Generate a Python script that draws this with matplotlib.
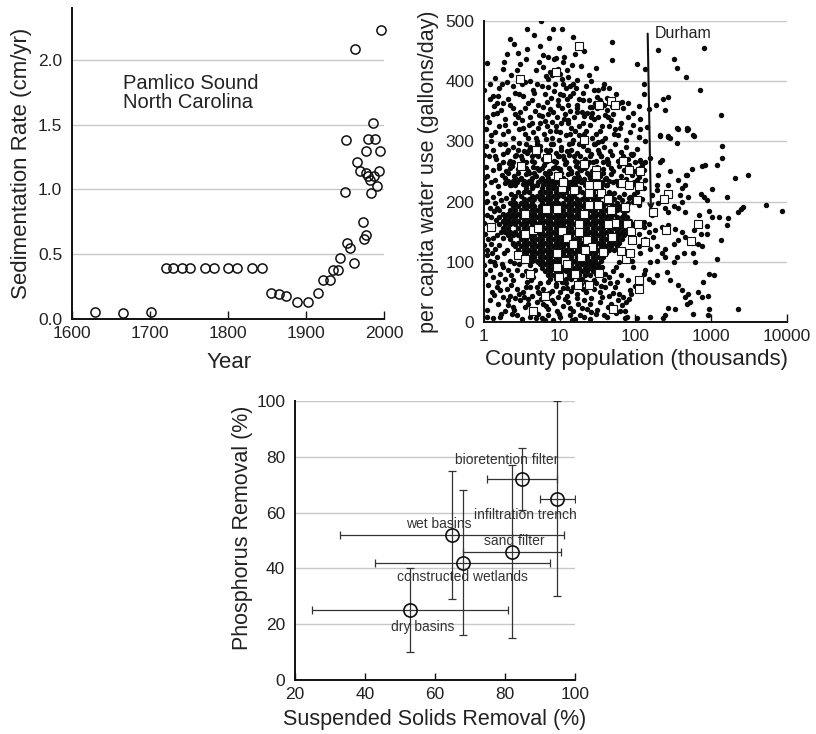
import matplotlib
matplotlib.use("Agg")
import matplotlib.pyplot as plt
from matplotlib.ticker import FormatStrFormatter, NullLocator

plt.rcParams['font.family'] = ['Liberation Sans', 'DejaVu Sans']

# ---------------- Panel 1: Pamlico Sound sedimentation ----------------
years = [1629, 1665, 1701, 1720, 1730, 1741, 1751, 1771, 1782, 1800, 1811, 1831, 1843,
         1855, 1865, 1875, 1889, 1903, 1916, 1922, 1931, 1935, 1941, 1944, 1953, 1956,
         1962, 1950, 1951, 1963, 1965, 1969, 1973, 1974, 1977, 1977, 1977, 1979, 1979,
         1982, 1983, 1986, 1988, 1987, 1991, 1993, 1995, 1996]
rates = [0.057, 0.049, 0.057, 0.39, 0.39, 0.39, 0.39, 0.39, 0.39, 0.39, 0.39, 0.39, 0.39,
         0.20, 0.19, 0.18, 0.13, 0.13, 0.20, 0.30, 0.30, 0.38, 0.38, 0.47, 0.59, 0.55,
         0.43, 0.98, 1.38, 2.08, 1.21, 1.14, 0.75, 0.62, 0.65, 1.30, 1.13, 1.10, 1.39,
         1.07, 0.97, 1.51, 1.39, 1.10, 1.03, 1.14, 1.30, 2.23]

# ---------------- Panel 2: per capita water use vs county population ----------------
# (population in thousands, gallons/day)
dots_upper = [(5.6,500),(3.7,487),(8.1,486),(10.6,486),(4.6,476),(15.2,473),(2.2,470),(2.5,462),
    (5.5,458),(48.7,465),(21,450),(3.7,454),(1.86,432),(3.6,437),(8.9,438),(11.2,432),(14.7,427),
    (49.7,435),(104,429),(201,451),(324,437),(352,422),(462,407),(800,455),(2.7,418),(2.3,410),
    (6.1,424),(7.8,410),(10.6,404),(7.3,472),(7.1,440),(8.4,437),(11.5,441),(4.1,401),(7.1,404),
    (7.4,415),(10.1,412),(13,407),(19,426),(26,400),(32,386),(37,389),(39,396),(45,389),(130,396),
    (131,379),(273,373),(708,385),(1343,344),(497,321),(578,310),(1.71,396),(2.0,399),(1.2,371),
    (1.55,375),(1.47,364),(1.77,364),(2.57,381),(2.93,379),(3.85,364),(5.2,361),(6.1,357),(7.4,354),
    (6.4,378),(10.1,379),(11.2,377),(13.7,375),(16.4,388),(18.2,371),(16.8,360),(2.44,355),(3.0,349),
    (9.6,368),(8.2,349),(11.8,346),(19.5,349),(1.9,338),(110,359),(79,364),(69,355),(94,348),(51,345),
    (31,373),(24,368),(26.5,357),(38,361),(27,347),(60,364),(188,360),(247,352),(234,370),(363,321),
    (477,322),(585,309),(212,309),(273,309),(290,306),(112,307),(149,354),(115,338),(94,327),
    (115,321),(141,324),(66,365),(49,358),(42,352),(34,368),(25,357),(21,343),(17,349),(28,337),
    (47,335),(54,321),(63,322),(1.0,385),(1.3,345),(1.05,320),(1.25,310),(1.6,325),(2.1,318),
    (2.6,330),(3.3,322),(4.0,340),(4.5,315),(5.5,330),(6.8,325),(9,318),(10.5,330),(12,310),
    (14,322),(15.5,340),(22,318),(25,328),(30,312),(36,325),(40,305),(44,340),(58,310),(75,302),
    (85,315),(135,420),(3.2,395),(4.6,380),(5.3,344),(8.6,395),(12.8,360),(14.8,395),(20,380),
    (1.4,405),(1.1,430),(2.0,445),(6.7,365),(9.3,340),(18,310),(3.8,305),(7.8,305),(2.2,360),
    (1.35,358),(2.8,340),(4.3,330),(6.2,312),(8.0,333),(13,335),(16,318),(20,330),(32,340),(3.5,312),
    (1.15,333),(1.8,312),(1.5,348),(7.0,390),(5.0,395),(11,395),(17,402),(9.5,420),(6.0,443),
    (1.2,396),(1.6,388),(2.4,392),(3.5,398),(4.4,385),(5.8,392),(8.5,383),(12,388),(15,380),
    (22,392),(28,385),(1.3,376),(2.1,370),(3.3,375),(4.3,368),(7.6,372),(9.4,360),(12.5,370),
    (20,368),(29,363),(42,372),(55,378),(1.7,352),(2.6,346),(3.5,355),(4.7,350),(5.8,342),(7.0,346),
    (10.8,356),(13.5,350),(17,356),(23,348),(31,355),(40,344),(1.1,340),(1.9,328),(2.9,320),
    (3.9,328),(5.1,322),(6.3,334),(7.4,318),(8.8,326),(10.2,315),(11.5,338),(13.6,312),(17.8,326),
    (21,312),(26,340),(34,318),(45,326),(52,312),(65,330),(80,340),(1.4,315),(2.4,305),(3.2,336),
    (4.9,306),(6.6,304),(9.8,302),(12.8,330),(27,305),(36,300),(1.8,420),(3.0,428),(4.8,418),
    (5.3,432),(9.8,455),(12.5,418),(16,445),(2.8,447),(6.6,408),(13.8,392),(24,410),(30,422)]

dots_mid = [(1.05,292),(1.3,286),(1.65,295),(2.0,282),(2.4,291),(2.9,297),(3.4,284),(4.0,290),
    (4.7,279),(5.5,293),(6.5,285),(7.6,296),(9.0,280),(10.5,291),(12.4,284),(14.6,297),(17,281),
    (20,292),(23.5,286),(28,295),(33,280),(39,290),(46,284),(54,296),(64,282),(75,291),(88,279),
    (104,288),
    (1.15,276),(1.45,270),(1.8,279),(2.2,268),(2.65,277),(3.15,271),(3.7,280),(4.35,268),(5.1,276),
    (6.0,271),(7.0,279),(8.3,267),(9.7,275),(11.4,270),(13.4,278),(15.8,268),(18.5,276),(21.8,271),
    (25.6,279),(30,267),(35.5,275),(42,270),(49,278),(58,268),(68,276),(80,270),(94,279),(115,268),
    (1.05,258),(1.3,253),(1.6,261),(1.95,250),(2.35,259),(2.8,254),(3.3,262),(3.85,251),(4.5,258),
    (5.3,253),(6.2,261),(7.3,250),(8.6,258),(10.1,254),(11.9,262),(14,251),(16.4,259),(19.3,253),
    (22.7,261),(26.7,250),(31.4,258),(37,254),(43.5,262),(51,251),(60,259),(71,253),(83,261),(98,250),
    (1.1,242),(1.4,236),(1.75,245),(2.1,234),(2.5,243),(3.0,237),(3.55,246),(4.15,235),(4.9,243),
    (5.7,237),(6.7,245),(7.9,234),(9.3,242),(10.9,238),(12.8,246),(15.1,235),(17.7,243),(20.8,237),
    (24.5,245),(28.8,234),(34,242),(40,238),(47,246),(55,235),(65,243),(76,237),(90,245),(106,236),
    (1.0,228),(1.25,232),(1.55,226),(1.9,231),(2.3,227),(2.75,233),(3.25,229),(3.8,231),(4.45,226),
    (5.2,232),(6.1,228),(7.2,233),(8.4,227),(9.9,231),(11.6,226),(13.7,232),(16.1,228),(19,233),
    (22.3,227),(26.2,231),(30.8,226),(36.3,232),(42.7,228),(50.2,233),(59,227),(69.5,231),(82,226),
    (96,232),
    (1.05,214),(1.3,208),(1.6,215),(1.95,206),(2.3,212),(52,214),(60,207),(70,213),(82,206),(97,212),
    (115,205),(1.1,201),(1.4,197),(1.7,203),(66,202),(80,198),(95,204),(112,197),
    (2.15,264),(3.6,266),(6.8,267),(12,266),(24,265),(44,266),(1.25,300),(5.0,301),(15,302),(32,299)]

# dense core of the cloud: gallons/day -> populations along that level
core_rows = {
    296: [1.9, 3.6, 5.0, 8.1, 13.2, 18.2, 29.5],
    286: [2.07, 2.85, 3.94, 5.43, 7.5, 10.35, 14.3, 23.2, 32],
    276: [1.4, 2.6, 3.1, 4.3, 6.9, 9.5, 11.2, 15.5, 25.1, 34.7],
    266: [1.76, 2.43, 3.35, 4.62, 6.38, 8.81, 12.2, 16.8, 19.7, 27.2, 37.6],
    256: [1.6, 2.2, 3.6, 5.0, 5.9, 8.1, 9.5, 13.2, 18.2, 21.4, 29.5, 47.9],
    248: [2.07, 2.85, 3.94, 4.62, 6.38, 7.5, 10.35, 14.3, 16.8, 23.2, 32, 37.6],
    240: [1.9, 2.6, 3.1, 4.3, 5.9, 6.9, 9.5, 11.2, 15.5, 18.2, 25.1, 29.5, 40.7],
    234: [2.43, 3.35, 3.94, 5.43, 6.38, 8.81, 10.35, 12.2, 16.8, 19.7, 27.2, 32, 44.2],
    228: [2.2, 2.6, 3.6, 4.3, 5.0, 6.9, 8.1, 11.2, 13.2, 15.5, 21.4, 25.1, 34.7, 40.7],
    222: [3.6, 4.3, 5.9, 6.9, 8.1, 9.5, 13.2, 15.5, 18.2, 25.1, 29.5, 34.7],
    216: [2.85, 3.35, 3.94, 5.43, 6.38, 7.5, 8.81, 10.35, 12.2, 16.8, 19.7, 23.2, 27.2, 37.6, 44.2],
    210: [2.6, 3.1, 4.3, 5.0, 5.9, 6.9, 8.1, 9.5, 11.2, 13.2, 15.5, 21.4, 25.1, 29.5, 34.7, 40.7, 47.9],
    204: [2.43, 3.35, 3.94, 4.62, 5.43, 6.38, 7.5, 8.81, 12.2, 14.3, 16.8, 19.7, 23.2, 27.2, 32, 44.2, 51.9],
    198: [2.2, 2.6, 3.1, 3.6, 4.3, 5.9, 6.9, 8.1, 9.5, 11.2, 13.2, 15.5, 18.2, 21.4, 29.5, 34.7, 40.7, 47.9, 56.2],
    192: [1.76, 2.43, 2.85, 3.35, 3.94, 4.62, 5.43, 6.38, 7.5, 8.81, 10.35, 12.2, 14.3, 16.8, 19.7, 23.2, 27.2, 32, 37.6, 51.9, 61, 71.6],
    186: [1.6, 2.2, 2.6, 3.1, 3.6, 4.3, 5.0, 5.9, 6.9, 8.1, 9.5, 11.2, 13.2, 15.5, 18.2, 21.4, 25.1, 29.5, 34.7, 40.7, 47.9, 56.2, 66, 77.6],
    180: [1.76, 2.07, 2.43, 2.85, 3.35, 3.94, 4.62, 5.43, 6.38, 7.5, 8.81, 10.35, 12.2, 14.3, 16.8, 19.7, 23.2, 27.2, 32, 37.6, 44.2, 51.9, 71.6],
    174: [1.6, 1.9, 2.2, 2.6, 3.1, 3.6, 4.3, 5.0, 5.9, 6.9, 8.1, 9.5, 11.2, 13.2, 15.5, 18.2, 21.4, 25.1, 29.5, 34.7, 40.7, 47.9, 56.2, 66, 77.6],
    168: [1.76, 2.07, 2.43, 2.85, 3.35, 3.94, 4.62, 5.43, 6.38, 7.5, 8.81, 10.35, 12.2, 14.3, 16.8, 19.7, 23.2, 27.2, 32, 37.6, 44.2, 51.9, 61, 71.6, 84.1],
    162: [1.6, 1.9, 2.2, 2.6, 3.1, 3.6, 4.3, 5.0, 5.9, 6.9, 8.1, 9.5, 11.2, 13.2, 15.5, 18.2, 21.4, 25.1, 29.5, 34.7, 40.7, 47.9, 56.2, 66, 77.6, 91.2],
    156: [1.76, 2.07, 2.85, 3.35, 3.94, 4.62, 5.43, 6.38, 7.5, 8.81, 10.35, 12.2, 14.3, 16.8, 19.7, 23.2, 27.2, 32, 37.6, 44.2, 51.9, 61, 71.6, 84.1],
    150: [1.9, 2.2, 2.6, 3.1, 3.6, 4.3, 5.0, 5.9, 6.9, 8.1, 9.5, 11.2, 13.2, 15.5, 18.2, 21.4, 25.1, 29.5, 34.7, 40.7, 47.9, 56.2, 66, 77.6],
    144: [2.07, 2.43, 2.85, 3.35, 3.94, 4.62, 5.43, 6.38, 7.5, 8.81, 10.35, 12.2, 14.3, 16.8, 19.7, 23.2, 27.2, 32, 37.6, 44.2, 51.9, 61, 71.6],
    138: [2.2, 3.1, 3.6, 4.3, 5.0, 5.9, 6.9, 8.1, 9.5, 11.2, 13.2, 15.5, 18.2, 21.4, 25.1, 29.5, 34.7, 40.7, 47.9, 56.2, 66],
    132: [2.43, 2.85, 3.35, 3.94, 4.62, 5.43, 6.38, 7.5, 8.81, 10.35, 12.2, 14.3, 16.8, 19.7, 23.2, 27.2, 32, 37.6, 44.2, 51.9, 61],
    126: [2.6, 3.1, 3.6, 4.3, 5.0, 5.9, 6.9, 8.1, 9.5, 11.2, 13.2, 15.5, 18.2, 21.4, 25.1, 29.5, 34.7, 40.7, 47.9, 56.2],
    120: [2.85, 3.35, 3.94, 4.62, 5.43, 6.38, 7.5, 8.81, 10.35, 12.2, 14.3, 16.8, 19.7, 23.2, 27.2, 32, 37.6, 44.2, 51.9],
    114: [3.1, 3.6, 4.3, 5.0, 5.9, 6.9, 8.1, 9.5, 11.2, 13.2, 15.5, 18.2, 21.4, 25.1, 29.5, 34.7, 40.7],
    108: [3.94, 4.62, 5.43, 6.38, 7.5, 8.81, 10.35, 12.2, 14.3, 16.8, 19.7, 23.2, 27.2, 32, 37.6],
    102: [4.3, 5.0, 5.9, 6.9, 8.1, 9.5, 11.2, 13.2, 15.5, 18.2, 21.4, 25.1, 29.5, 34.7],
    96: [5.43, 6.38, 7.5, 8.81, 10.35, 12.2, 14.3, 16.8, 19.7, 23.2, 27.2, 32],
    90: [5.9, 6.9, 8.1, 9.5, 11.2, 13.2, 15.5, 18.2, 21.4, 25.1, 29.5],
    84: [6.38, 7.5, 8.81, 10.35, 12.2, 14.3, 16.8, 19.7, 23.2, 27.2],
    78: [6.9, 8.1, 9.5, 13.2, 15.5, 18.2, 21.4, 25.1],
    72: [7.5, 8.81, 12.2, 14.3, 19.7],
}

dots_left = [(1.03,147),(1.14,138),(1.08,119),(1.26,114),(1.2,102),(1.47,108),(1.71,97),(2.2,102),
    (1.0,165),(1.1,178),(1.2,190),(1.05,200),(1.3,158),(1.45,170),(1.35,185),(1.5,145),(1.0,128),
    (1.6,128),(1.25,130),(1.85,115),(1.15,160),(1.4,122),(1.8,140),(1.4,94),(1.2,86),(1.03,80),
    (1.33,75),(1.63,80),(1.55,66),(1.14,61),(1.26,50),(1.63,53),(2.0,55),(1.8,41),(1.2,36),
    (1.55,30),(2.1,36),(1.08,8),(1.33,6),(1.63,8),(2.32,14),(2.44,25),(2.2,44),(1.9,72),(2.1,86),
    (2.7,86),(3.15,78),(2.44,69),(3.66,66),(4.5,75),(4.7,86),(4.05,94),(5.2,100),(3.3,102),(2.85,113),
    (5.5,64),(5.0,58),(1.0,277),(1.0,240),(1.0,95),(1.1,20),
    (1.8,92),(2.3,78),(2.9,96),(3.6,84),(4.2,70),(1.5,58),(2.5,98),(3.9,108),(2.0,120),(2.4,130),
    (1.7,150),(1.3,140),(1.9,170),(1.25,175),(1.5,190),(1.1,112),(1.35,100)]

dots_low = [(2.7,55),(3.3,50),(4.05,58),(3.0,36),(3.85,39),(4.96,33),(3.5,25),(4.5,19),(2.7,11),
    (3.15,5),(4.05,8),(5.2,14),(6.1,30),(7.1,22),(7.8,36),(9.1,19),(10.1,8),(11.2,27),(13,33),
    (15.2,19),(17.7,30),(18.6,11),(16,5),(8.2,3),(6.4,3),(10.1,50),(12.4,44),(16.8,47),(6.7,44),
    (5.2,50),(7,66),(9,60),(12,64),(15,58),(19,63),(24,61),(6,55),(8,52),(11,56),(14,52),(20,55),
    (22,50),(38,69),(46,64),(57,66),(40,58),(34,50),(51,48),(60,46),(69,42),(81,39),(85,53),(34,33),
    (44,25),(66,28),(73,19),(42,8),(73,6),(23,22),(26.5,94),(94,91),(90,102),(73,108),(60,100),
    (50,85),(65,78),(80,70),(100,60),(45,75),(30,80),(28,70),(33,90),(26,40),(30,14),(21,36),
    (9.5,42),(13.5,24),(5.8,6),(25,5),(55,15),(104,6),(77,8),
    (2.3,62),(2.9,47),(3.6,58),(4.3,44),(5.6,38),(6.5,27),(7.3,48),(8.5,31),(9.8,14),(11.8,38),
    (13.8,12),(17,40),(19.5,24),(21,8),(25,30),(28,54),(31,20),(36,41),(39,12),(48,30),(53,58),
    (62,18),(76,33),(88,46),(2.5,20),(3.8,30),(4.8,6),(6.9,12),(8.9,63),(12.5,56),(16.5,62),
    (5.4,48),(3.4,41),(2.1,28),(1.7,14),(14.5,3),(26,16),(35,60),(45,44),(58,36),(1.35,45),
    (1.9,18),(2.6,40),(10.8,66),(18,70),(22,66),(30,64),(40,80),(36,92),(55,92)]

dots_right = [(550,254),(760,259),(824,260),(1175,261),(1030,221),(497,208),(730,213),(807,208),
    (867,202),(1595,208),(2055,239),(3020,244),(2275,183),(2466,187),(2650,191),(5275,194),
    (8510,185),(931,185),(1010,174),(1262,174),(1644,172),(1595,161),(687,177),(867,159),(596,152),
    (730,147),(867,146),(1328,137),(561,132),(673,130),(760,126),(578,115),(608,100),(1200,104),
    (931,80),(1096,78),(784,66),(497,47),(673,50),(760,42),(912,44),(522,34),(931,22),(2228,21),
    (578,14),(895,11),(1371,293),(1371,272),(467,244),
    (128,157),(149,162),(273,161),(334,155),(410,150),(453,141),(370,136),(318,130),(247,122),
    (223,114),(191,127),(156,122),(156,100),(191,102),(247,108),(318,100),(352,108),(431,114),
    (259,83),(287,69),(370,61),(410,53),(453,42),(477,30),(334,22),(273,24),(149,72),(173,66),
    (191,78),(134,86),(156,8),(234,6),(247,11),(115,114),(128,80),(110,127),(134,138),(110,147),
    (173,141),(182,152),(149,150),(223,158),(128,166),
    (112,308),(134,300),(212,310),(273,308),(352,298),(352,322),(477,319),(212,266),(223,269),
    (156,272),(134,266),(121,261),(115,255),(287,250),(201,244),(370,236),(477,244),(453,228),
    (410,222),(273,228),(191,228),(191,219),(164,211),(389,211),(410,200),(318,192),(370,189),
    (453,183),(247,189),(201,197),(273,183),(164,178),(110,194),(121,205),(128,222),(134,236),
    (128,252),(110,241),(90,228),(104,216),(85,208),(94,200),(99,266),(91,277),(115,269)]

# open squares
sq_pop = [18, 3.0, 8.9, 48, 53, 33, 21, 4.9, 6.8, 3.1, 68, 81, 115, 21, 30, 30, 9.6, 10.7, 11.2,
          15.3, 24, 24, 31, 35, 67, 83, 111, 104, 265, 235, 168, 1.22, 3.5, 6.6, 9.1, 3.5, 4.5,
          5.2, 10.6, 12.6, 15.2, 18, 18, 21, 23, 27, 24, 32, 43, 48, 53, 43, 49, 73, 77, 87, 90,
          107, 134, 254, 660, 545, 2.8, 3.5, 4.1, 9.1, 9.2, 11.8, 12.4, 9.8, 16, 17.7, 19, 21.6,
          24.7, 33, 37, 65, 76, 85, 111, 111, 6.4, 4.5, 51]
sq_use = [458, 403, 416, 367, 360, 360, 303, 286, 272, 259, 267, 252, 250, 262, 252, 244, 242,
          223, 233, 219, 227, 215, 228, 215, 231, 227, 226, 203, 213, 204, 183, 158, 180, 188, 187,
          147, 152, 156, 151, 140, 130, 163, 150, 180, 137, 125, 195, 195, 204, 186, 165, 162, 141,
          191, 162, 151, 136, 163, 133, 153, 162, 135, 111, 104, 80, 114, 91, 102, 97, 75, 80, 61,
          108, 119, 61, 82, 116, 118, 105, 115, 70, 54, 43, 19, 22]

durham_tail = (145, 479)
durham_head = (160, 185)

# ---------------- Panel 3: BMP removal efficiencies ----------------
bmp_names = ['bioretention filter', 'infiltration trench', 'wet basins', 'sand filter',
             'constructed wetlands', 'dry basins']
ss_mean = [85, 95, 65, 82, 68, 53]
ss_low = [75, 90, 33, 68, 43, 25]
ss_high = [95, 100, 97, 96, 93, 81]
p_mean = [72, 65, 52, 46, 42, 25]
p_low = [61, 30, 29, 15, 16, 10]
p_high = [83, 100, 75, 77, 68, 40]
label_x = [80.4, 85.7, 61.0, 82.7, 67.9, 56.4]
label_y = [79.0, 59.3, 55.8, 49.9, 36.8, 19.1]

# ================= drawing =================
TXT = '#222222'
GRID = '#c8c8c8'

fig = plt.figure(figsize=(8.16, 7.34), dpi=100)


def style(ax, xlen):
    for s in ('top', 'right'):
        ax.spines[s].set_visible(False)
    for s in ('left', 'bottom'):
        ax.spines[s].set_linewidth(1.4)
        ax.spines[s].set_color('#111111')
    ax.set_axisbelow(True)
    ax.yaxis.grid(True, color=GRID, lw=1.0)
    ax.tick_params(axis='x', direction='in', length=xlen, width=1.0, pad=5,
                   labelsize=12.5, labelcolor=TXT, color='#111111')
    ax.tick_params(axis='y', length=0, pad=7, labelsize=12.5, labelcolor=TXT)


# Panel 1
ax1 = fig.add_axes([0.0882, 0.5654, 0.3824, 0.4237])
style(ax1, 6)
ax1.plot(years, rates, 'o', ms=6.6, mfc='none', mec='#111111', mew=1.1, ls='none', clip_on=False)
ax1.set_xlim(1600, 2000)
ax1.set_ylim(0, 2.4)
ax1.set_xticks([1600, 1700, 1800, 1900, 2000])
ax1.set_yticks([0, 0.5, 1.0, 1.5, 2.0])
ax1.yaxis.set_major_formatter(FormatStrFormatter('%.1f'))
for g in ax1.yaxis.get_gridlines()[:1]:
    g.set_visible(False)
ax1.set_xlabel('Year', fontsize=16, color=TXT)
ax1.set_ylabel('Sedimentation Rate (cm/yr)', fontsize=16, color=TXT)
ax1.xaxis.set_label_coords(0.503, -0.14)
ax1.xaxis.label.set_va('center')
ax1.yaxis.set_label_coords(-0.163, 0.5)
ax1.yaxis.label.set_va('center')
ax1.text(1665, 1.89, 'Pamlico Sound\nNorth Carolina', fontsize=14.5, color=TXT,
         va='top', ha='left', linespacing=1.0)

# Panel 2
ax2 = fig.add_axes([0.5931, 0.5613, 0.3713, 0.4101])
style(ax2, 6)
ax2.set_xscale('log')
all_dots = list(dots_upper) + list(dots_mid) + list(dots_left) + list(dots_low) + list(dots_right)
for u, pops in core_rows.items():
    all_dots += [(p, u) for p in pops]
dx = [p for p, u in all_dots]
dy = [u for p, u in all_dots]
ax2.plot(dx, dy, 'o', ms=3.9, color='#0a0a0a', mew=0, ls='none')
ax2.plot(sq_pop, sq_use, 's', ms=5.2, mfc='white', mec='#111111', mew=0.8, ls='none')
ax2.set_xlim(1, 10000)
ax2.set_ylim(0, 500)
ax2.set_xticks([1, 10, 100, 1000, 10000])
ax2.set_xticklabels(['1', '10', '100', '1000', '10000'])
ax2.xaxis.set_minor_locator(NullLocator())
ax2.set_yticks([0, 100, 200, 300, 400, 500])
for g in ax2.yaxis.get_gridlines()[:1]:
    g.set_visible(False)
ax2.annotate('', xy=durham_head, xytext=durham_tail,
             arrowprops=dict(arrowstyle='->', lw=1.5, color='#111111', shrinkA=0, shrinkB=0,
                             mutation_scale=9))
ax2.text(182, 480, 'Durham', fontsize=11.5, color=TXT, va='center', ha='left')
ax2.set_xlabel('County population (thousands)', fontsize=16, color=TXT)
ax2.set_ylabel('per capita water use (gallons/day)', fontsize=15.5, color=TXT)
ax2.xaxis.set_label_coords(0.502, -0.126)
ax2.xaxis.label.set_va('center')
ax2.yaxis.set_label_coords(-0.1815, 0.498)
ax2.yaxis.label.set_va('center')

# Panel 3
ax3 = fig.add_axes([0.3615, 0.0736, 0.3431, 0.3801])
style(ax3, 5)
for i in range(len(bmp_names)):
    ax3.errorbar([ss_mean[i]], [p_mean[i]],
                 xerr=[[ss_mean[i] - ss_low[i]], [ss_high[i] - ss_mean[i]]],
                 yerr=[[p_mean[i] - p_low[i]], [p_high[i] - p_mean[i]]],
                 fmt='none', ecolor='#333333', elinewidth=0.9, capsize=3, capthick=0.9)
ax3.plot(ss_mean, p_mean, 'o', ms=9.5, mfc='none', mec='#111111', mew=1.2, ls='none')
for name, lx, ly in zip(bmp_names, label_x, label_y):
    ax3.text(lx, ly, name, fontsize=10, color='#333333', ha='center', va='center')
ax3.set_xlim(20, 100)
ax3.set_ylim(0, 100)
ax3.set_xticks([20, 40, 60, 80, 100])
ax3.set_yticks([0, 20, 40, 60, 80, 100])
for g in ax3.yaxis.get_gridlines()[:1]:
    g.set_visible(False)
ax3.set_xlabel('Suspended Solids Removal (%)', fontsize=15.5, color=TXT)
ax3.set_ylabel('Phosphorus Removal (%)', fontsize=15.5, color=TXT)
ax3.xaxis.set_label_coords(0.497, -0.143)
ax3.xaxis.label.set_va('center')
ax3.yaxis.set_label_coords(-0.186, 0.545)
ax3.yaxis.label.set_va('center')

fig.savefig('out.png', dpi=100)
